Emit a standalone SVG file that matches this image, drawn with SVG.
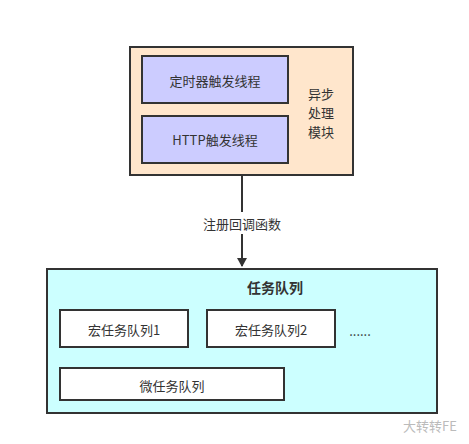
<svg xmlns="http://www.w3.org/2000/svg" width="469" height="444" viewBox="0 0 469 444">
<style>
text{font-family:"Noto Sans CJK SC","Liberation Sans",sans-serif;fill:#333;font-size:13px;text-anchor:middle;dominant-baseline:central}
.box{stroke:#333;stroke-width:2}
.b{font-weight:bold;font-size:14px}
</style>
<defs>
<marker id="ah" markerWidth="10" markerHeight="12" refX="8" refY="5" orient="auto" markerUnits="userSpaceOnUse">
<path d="M0,0 L9,5 L0,10 Z" fill="#333"/>
</marker>
</defs>
<rect width="469" height="444" fill="#fff"/>
<g id="async">
<rect class="box" x="130" y="47" width="223" height="128" fill="#FFE6CC"/>
<text x="321" y="93">异步</text>
<text x="321" y="112">处理</text>
<text x="321" y="131">模块</text>
</g>
<g id="timer">
<rect class="box" x="142" y="56" width="146" height="47" fill="#CCCCFF"/>
<text x="215" y="80">定时器触发线程</text>
</g>
<g id="http">
<rect class="box" x="142" y="116" width="146" height="47" fill="#CCCCFF"/>
<text x="215" y="139">HTTP触发线程</text>
</g>
<g id="queue">
<rect class="box" x="47" y="269" width="390" height="144" fill="#CCFFFF"/>
<text class="b" x="275" y="287">任务队列</text>
<text x="360" y="330" font-size="10">......</text>
</g>
<g id="macro1">
<rect class="box" x="60" y="310" width="128" height="37" fill="#fff"/>
<text x="124" y="329">宏任务队列1</text>
</g>
<g id="macro2">
<rect class="box" x="207" y="310" width="128" height="37" fill="#fff"/>
<text x="271" y="329">宏任务队列2</text>
</g>
<g id="micro">
<rect class="box" x="60" y="368" width="224" height="32" fill="#fff"/>
<text x="172" y="385">微任务队列</text>
</g>
<g id="connectors">
<line x1="242" y1="176" x2="242" y2="266" stroke="#333" stroke-width="2" marker-end="url(#ah)"/>
<rect x="196" y="212" width="92" height="22" fill="#fff"/>
<text x="242" y="223">注册回调函数</text>
</g>
<text x="430" y="425" font-size="10" fill="#bbb" style="fill:#bbb">大转转FE</text>
</svg>
